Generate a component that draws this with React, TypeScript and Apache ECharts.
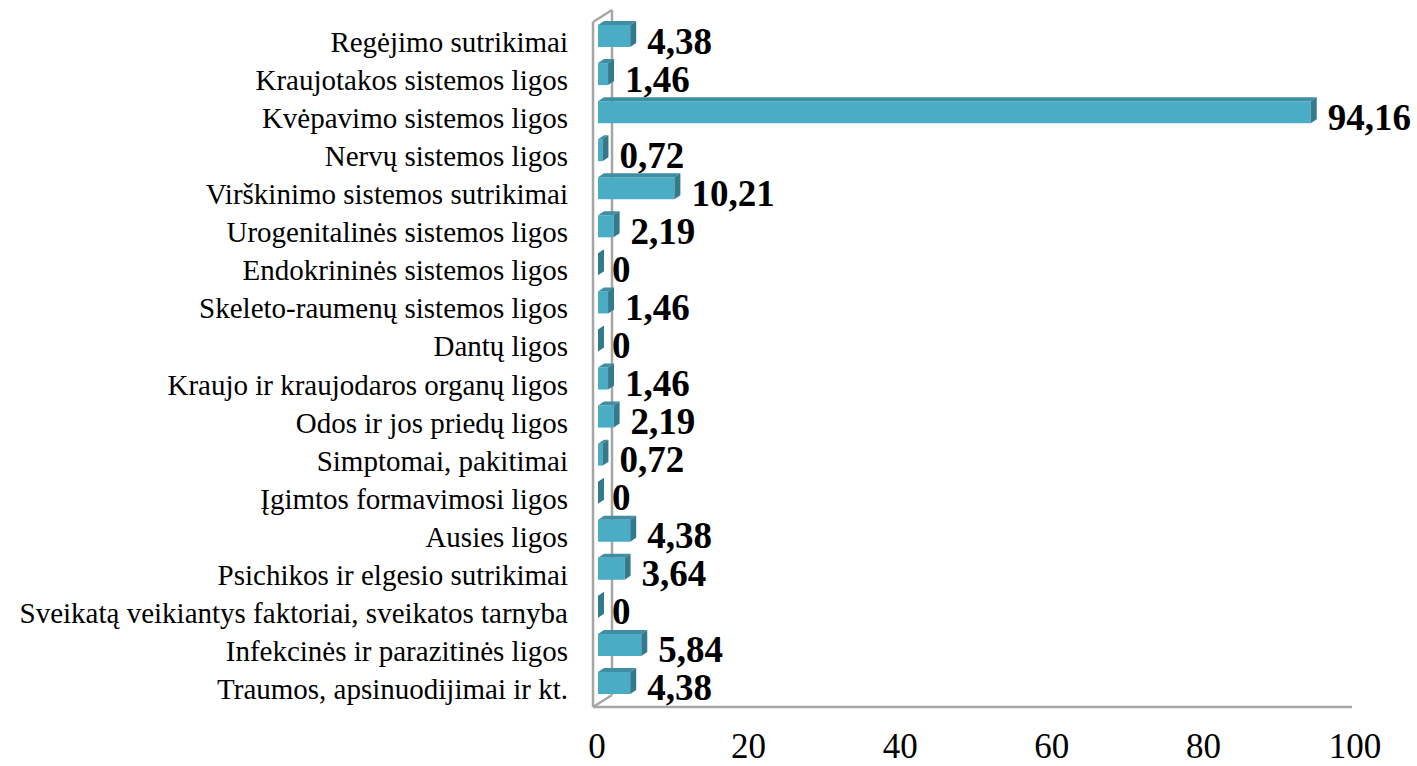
import React, { useEffect, useRef } from "react";
import * as echarts from "echarts";

const categories = [
  "Regėjimo sutrikimai",
  "Kraujotakos sistemos ligos",
  "Kvėpavimo sistemos ligos",
  "Nervų sistemos ligos",
  "Virškinimo sistemos sutrikimai",
  "Urogenitalinės sistemos ligos",
  "Endokrininės sistemos ligos",
  "Skeleto-raumenų sistemos ligos",
  "Dantų ligos",
  "Kraujo ir kraujodaros organų ligos",
  "Odos ir jos priedų ligos",
  "Simptomai, pakitimai",
  "Įgimtos formavimosi ligos",
  "Ausies ligos",
  "Psichikos ir elgesio sutrikimai",
  "Sveikatą veikiantys faktoriai, sveikatos tarnyba",
  "Infekcinės ir parazitinės ligos",
  "Traumos, apsinuodijimai ir kt.",
];
const values = [4.38, 1.46, 94.16, 0.72, 10.21, 2.19, 0, 1.46, 0, 1.46, 2.19, 0.72, 0, 4.38, 3.64, 0, 5.84, 4.38];
const xTicks = { min: 0, max: 100, interval: 20 };

const FONT = "'Liberation Serif', 'Times New Roman', serif";
const GRID = { left: 597, right: 62, top: 23, bottom: 58 };
const W = 1417;
const H = 766;
const DX = 6;
const DY = 4;

export default function App() {
  const ref = useRef<HTMLDivElement>(null);
  useEffect(() => {
    if (!ref.current) return;
    const chart = echarts.init(ref.current, undefined, { renderer: "svg" });
    const floorY = H - GRID.bottom - 1;
    const frontX = GRID.left - 4;
    const backX = frontX + 19;
    const topY = GRID.top - 1;
    const stroke = { stroke: "#a6a6a6", lineWidth: 2.5 };
    chart.setOption({
      animation: false,
      grid: GRID,
      xAxis: {
        type: "value",
        min: xTicks.min,
        max: xTicks.max,
        interval: xTicks.interval,
        axisLine: { show: false },
        axisTick: { show: false },
        splitLine: { show: false },
        axisLabel: { fontFamily: FONT, fontSize: 35, lineHeight: 30, color: "#000", margin: 23 },
      },
      yAxis: {
        type: "category",
        inverse: true,
        data: categories,
        axisLine: { show: false },
        axisTick: { show: false },
        axisLabel: { fontFamily: FONT, fontSize: 29, lineHeight: 30, color: "#000", margin: 29 },
      },
      graphic: [
        { type: "line", z: -10, shape: { x1: backX, y1: topY - 12, x2: backX, y2: floorY - 12 }, style: stroke },
        { type: "line", z: -10, shape: { x1: frontX, y1: floorY, x2: backX, y2: floorY - 12 }, style: stroke },
        { type: "line", z: -10, shape: { x1: frontX, y1: topY, x2: backX, y2: topY - 12 }, style: stroke },
        { type: "line", z: -10, shape: { x1: frontX, y1: topY, x2: frontX, y2: floorY }, style: stroke },
        { type: "line", z: -10, shape: { x1: frontX, y1: floorY, x2: W - GRID.right - 3, y2: floorY }, style: stroke },
      ],
      series: [
        {
          type: "custom",
          z: 10,
          data: values.map((v, i) => [v, i]),
          encode: { x: 0, y: 1 },
          renderItem: (params: any, api: any) => {
            const v = api.value(0);
            const idx = api.value(1);
            const p0 = api.coord([0, idx]);
            const p1 = api.coord([v, idx]);
            const c = p0[1] - 6;
            const top = c - 11;
            const bot = c + 11;
            const x0 = p0[0] + 1;
            const x1 = Math.max(p1[0], x0);
            const label = String(v).replace(".", ",");
            const gap = v > 0 ? 11 : 8;
            return {
              type: "group",
              children: [
                {
                  type: "rect",
                  shape: { x: x0, y: top, width: x1 - x0, height: bot - top },
                  style: { fill: "#4bacc6" },
                },
                {
                  type: "polygon",
                  shape: { points: [[x0, top], [x0 + DX, top - DY], [x1 + DX, top - DY], [x1, top]] },
                  style: { fill: "#3f8ea3" },
                },
                {
                  type: "polygon",
                  shape: { points: [[x1, top], [x1 + DX, top - DY], [x1 + DX, bot - DY], [x1, bot]] },
                  style: { fill: "#337a8c" },
                },
                {
                  type: "text",
                  x: x1 + DX + gap,
                  y: p0[1] - 1,
                  style: {
                    text: label,
                    fontFamily: FONT,
                    fontWeight: "bold",
                    fontSize: 37,
                    lineHeight: 34,
                    fill: "#000",
                    verticalAlign: "middle",
                    align: "left",
                  },
                },
              ],
            };
          },
        },
      ],
    });
    return () => chart.dispose();
  }, []);
  return <div ref={ref} style={{ width: W, height: H, position: "absolute", left: 0, top: 0 }} />;
}
